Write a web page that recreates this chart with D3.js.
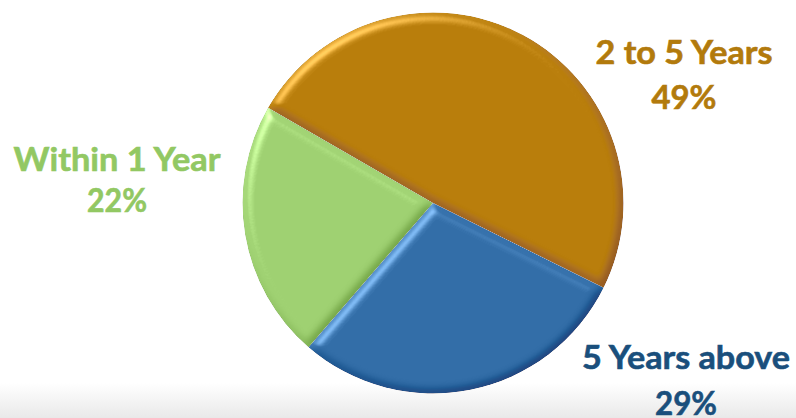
<!DOCTYPE html>
<html><head><meta charset="utf-8">
<script src="https://cdn.jsdelivr.net/npm/d3@7"></script>
<style>html,body{margin:0;padding:0;background:#fff;overflow:hidden}</style>
</head><body>
<svg id="chart" width="796" height="418"></svg>
<script>
const categories = ["2 to 5 Years", "5 Years above", "Within 1 Year"];
const values = [49, 29, 22];
const percentLabels = ["49%", "29%", "22%"];
const fillColors = ["#b97e0c", "#336ea8", "#9fd172"];
const textColors = ["#b27a0c", "#1a4f7c", "#92c863"];

const W = 796, H = 418;
const cx = 433, cy = 203, R = 190.5;
const svg = d3.select("#chart");
const defs = svg.append("defs");

// bottom light-gray band
const bg = defs.append("linearGradient").attr("id","band").attr("x1",0).attr("y1",0).attr("x2",0).attr("y2",1);
bg.append("stop").attr("offset",0).attr("stop-color","#ffffff");
bg.append("stop").attr("offset",1).attr("stop-color","#e9e9e9");
svg.append("rect").attr("x",0).attr("y",383).attr("width",W).attr("height",H-383).attr("fill","url(#band)");

// bevel filter
const el = 50;
const specC = 0.4, specE = 18;
const flatSpec = specC * Math.pow(Math.cos((90-el)/2*Math.PI/180), specE);
const f = defs.append("filter").attr("id","bevel").attr("x","-5%").attr("y","-5%").attr("width","110%").attr("height","110%")
  .attr("color-interpolation-filters","sRGB");
f.append("feGaussianBlur").attr("in","SourceAlpha").attr("stdDeviation",5).attr("result","blur");
const dl = f.append("feDiffuseLighting").attr("in","blur").attr("surfaceScale",4).attr("diffuseConstant",1)
  .attr("lighting-color","#ffffff").attr("result","light");
dl.append("feDistantLight").attr("azimuth",235).attr("elevation",el);
f.append("feComposite").attr("in","SourceGraphic").attr("in2","light").attr("operator","arithmetic")
  .attr("k1",0).attr("k2",1).attr("k3",0.3).attr("k4",-0.3*Math.sin(el*Math.PI/180)).attr("result","lit");
const sl = f.append("feSpecularLighting").attr("in","blur").attr("surfaceScale",4).attr("specularConstant",specC)
  .attr("specularExponent",specE).attr("lighting-color","#ffffff").attr("result","spec");
sl.append("feDistantLight").attr("azimuth",235).attr("elevation",el);
f.append("feComposite").attr("in","spec").attr("in2","SourceAlpha").attr("operator","in").attr("result","specIn");
f.append("feComposite").attr("in","lit").attr("in2","specIn").attr("operator","arithmetic")
  .attr("k1",0).attr("k2",1).attr("k3",1).attr("k4",-flatSpec).attr("result","lit2");
f.append("feComposite").attr("in","lit2").attr("in2","SourceAlpha").attr("operator","in");

const pie = d3.pie().sort(null).value(d => d).startAngle(-Math.PI/3).endAngle(-Math.PI/3 + 2*Math.PI);
const arcs = pie(values);
const arc = d3.arc().innerRadius(0).outerRadius(R);

const g = svg.append("g").attr("transform",`translate(${cx},${cy})`);
g.selectAll("path.slice").data(arcs).join("path")
  .attr("class","slice")
  .attr("d", arc)
  .attr("fill", (d,i) => fillColors[i])
  .attr("filter","url(#bevel)");

// labels
const labelPos = [
  {x:684, y1:64, y2:109},
  {x:686, y1:369, y2:415},
  {x:117, y1:171, y2:212}
];
const nameWidths = [177, 208, 207];
const pctWidths = [65, 62, 60];
const lg = svg.append("g").attr("font-family","Lato, 'Open Sans', sans-serif").attr("font-weight",700).attr("font-size",33);
categories.forEach((c,i) => {
  const p = labelPos[i];
  lg.append("text").attr("x",p.x).attr("y",p.y1).attr("text-anchor","middle").attr("fill",textColors[i])
    .attr("stroke",textColors[i]).attr("stroke-width",0.6)
    .attr("textLength",nameWidths[i]).attr("lengthAdjust","spacingAndGlyphs").text(c);
  lg.append("text").attr("x",p.x).attr("y",p.y2).attr("text-anchor","middle").attr("fill",textColors[i])
    .attr("stroke",textColors[i]).attr("stroke-width",0.6)
    .attr("textLength",pctWidths[i]).attr("lengthAdjust","spacingAndGlyphs").text(percentLabels[i]);
});
</script>
</body></html>
